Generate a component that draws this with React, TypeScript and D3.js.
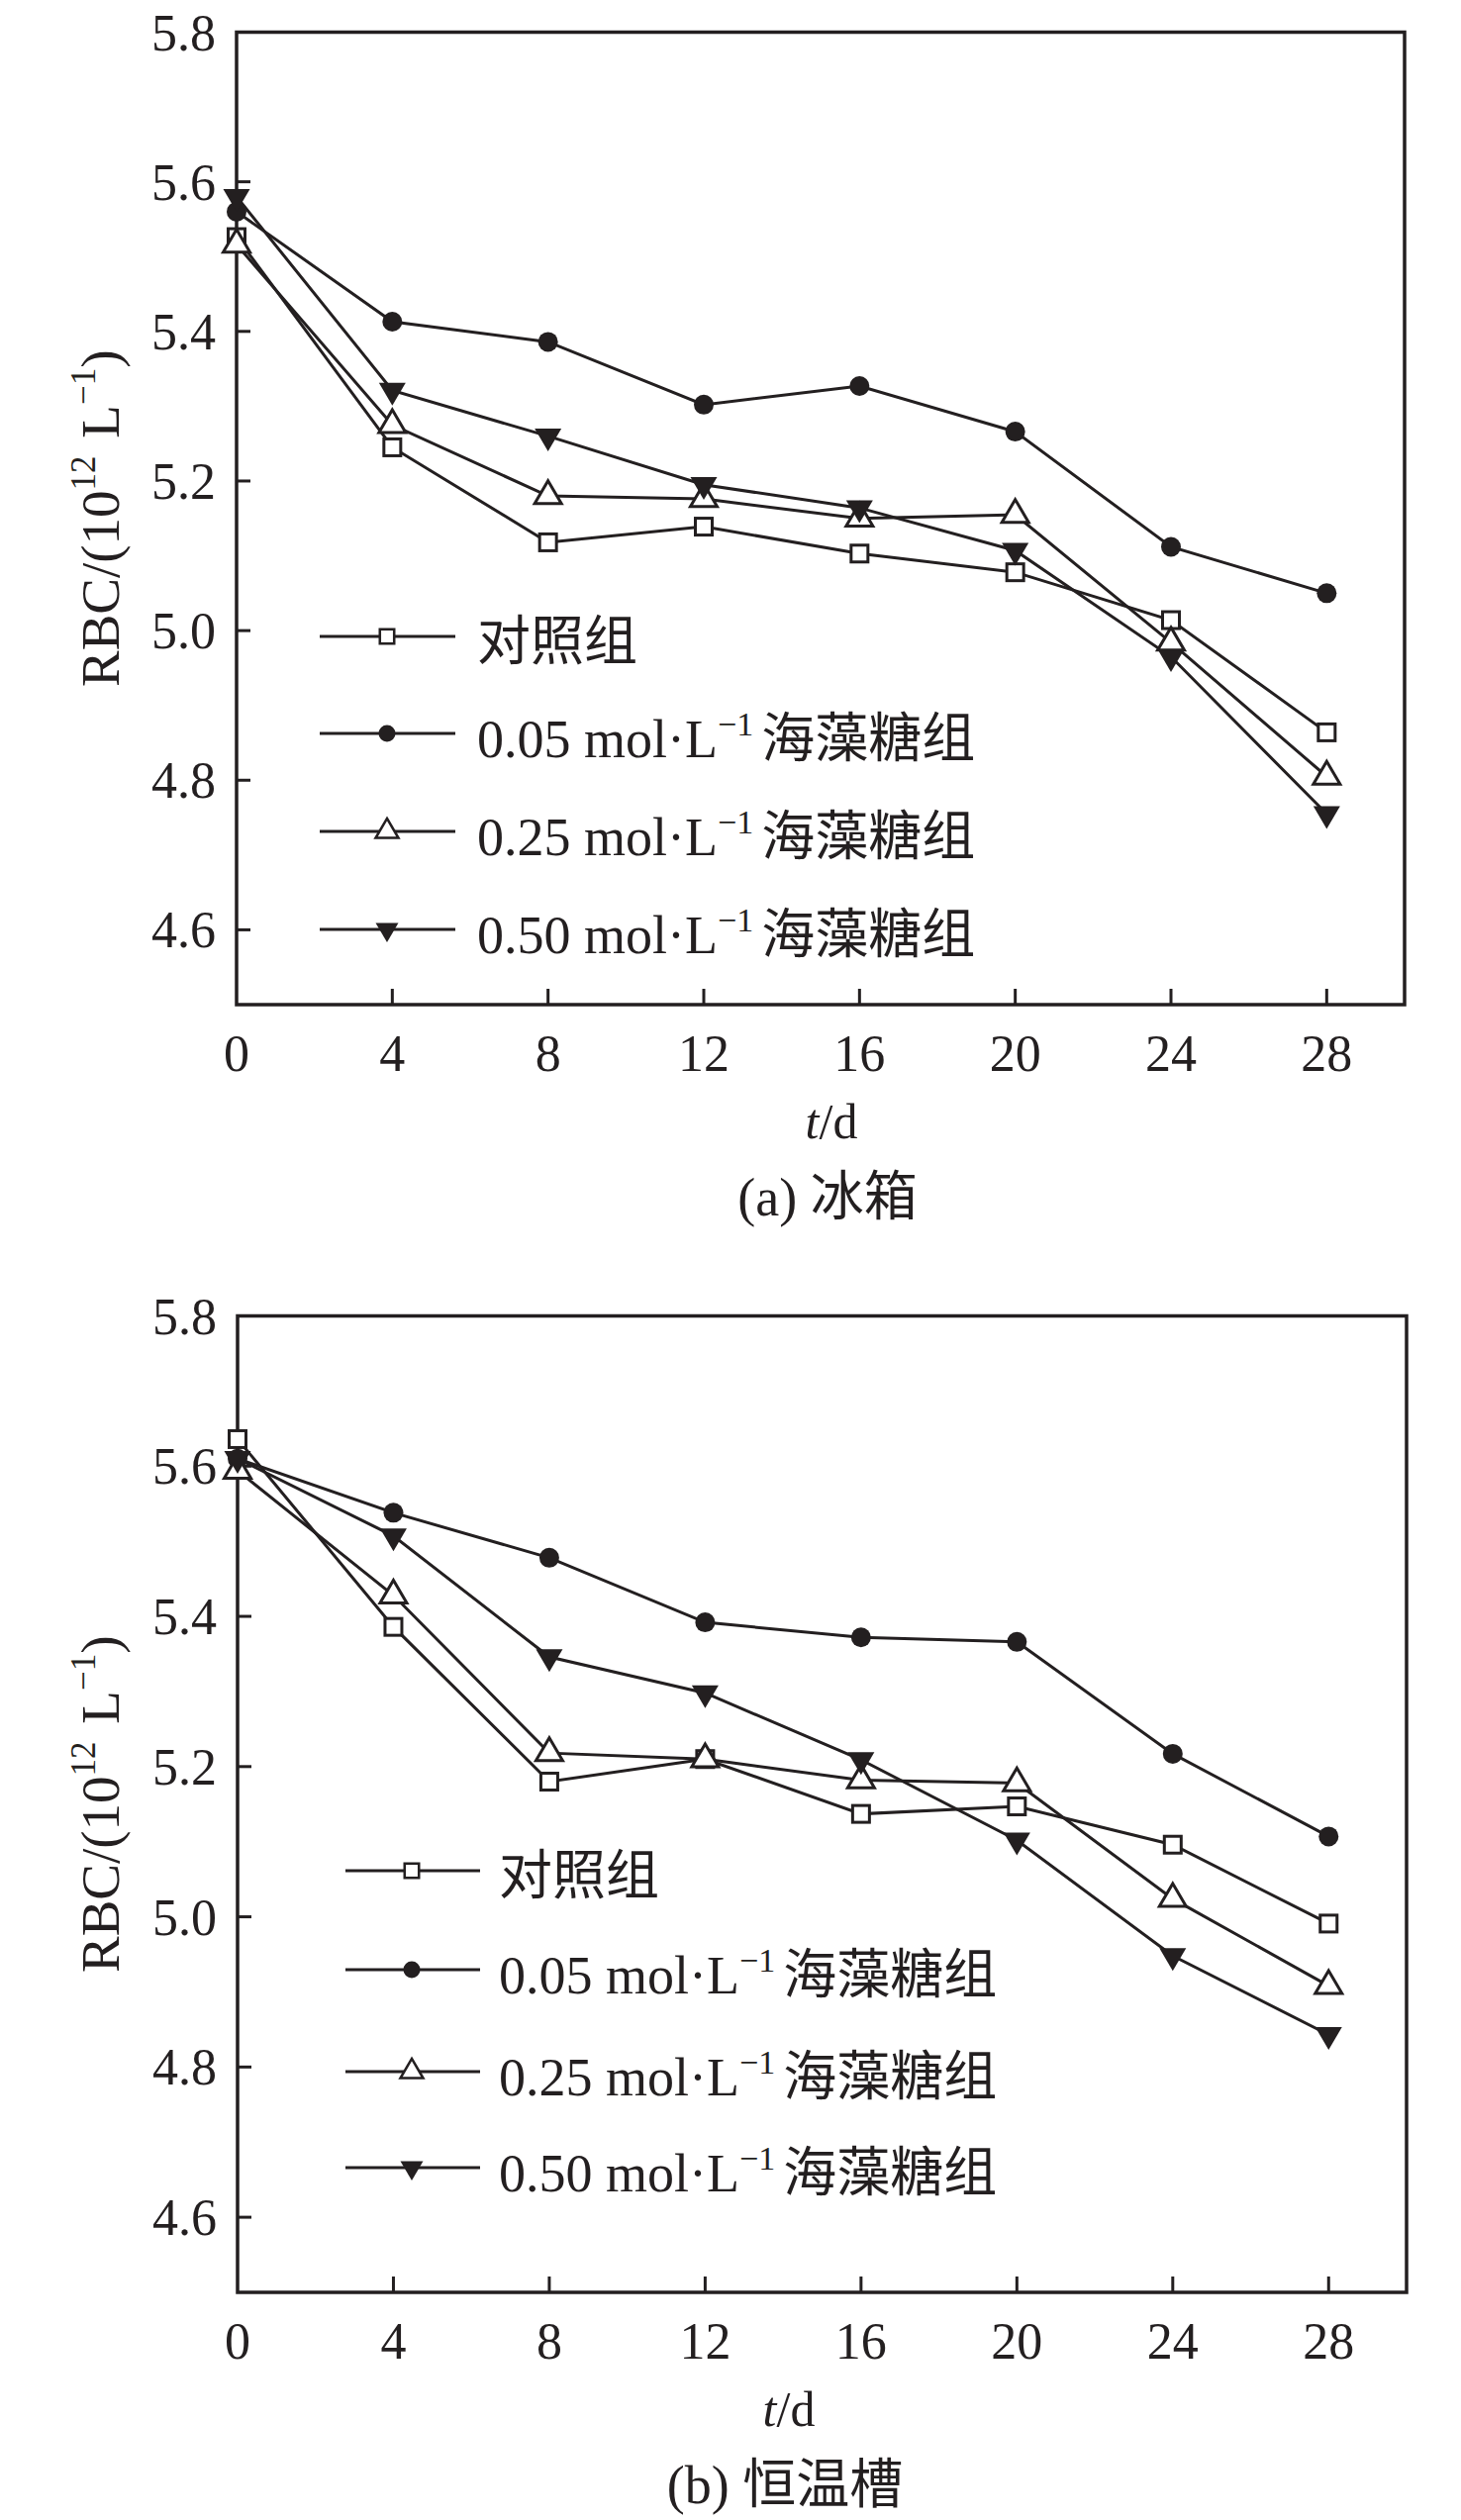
import * as d3 from "d3";
import React from "react";

// storage time (days)
const days = [0, 4, 8, 12, 16, 20, 24, 28];
const xTicks = [0, 4, 8, 12, 16, 20, 24, 28];
const yTicks = [4.6, 4.8, 5.0, 5.2, 5.4, 5.6, 5.8];

const seriesNames = ["对照组", "0.05", "0.25", "0.50"];

// (a) 冰箱
const ctrlA = [5.526, 5.245, 5.118, 5.139, 5.103, 5.078, 5.014, 4.864];
const low05A = [5.56, 5.413, 5.386, 5.302, 5.327, 5.266, 5.112, 5.05];
const mid25A = [5.516, 5.275, 5.18, 5.176, 5.15, 5.155, 4.984, 4.805];
const high50A = [5.58, 5.321, 5.26, 5.195, 5.164, 5.107, 4.965, 4.755];

// (b) 恒温槽
const ctrlB = [5.636, 5.386, 5.18, 5.21, 5.137, 5.147, 5.096, 4.991];
const low05B = [5.61, 5.538, 5.478, 5.392, 5.372, 5.366, 5.217, 5.107];
const mid25B = [5.594, 5.428, 5.218, 5.21, 5.182, 5.178, 5.024, 4.908];
const high50B = [5.61, 5.507, 5.346, 5.298, 5.209, 5.102, 4.948, 4.843];

// legend order: control, 0.05, 0.25, 0.50
const shapes = ["square", "circle", "triUp", "triDown"];
const INK = "#231f20";
const FONT = "'Liberation Serif', 'Times New Roman', 'Noto Sans CJK SC', serif";

function Marker({ shape, x, y, k = 1 }: { shape: string; x: number; y: number; k?: number }) {
  const sw = 3 * k;
  if (shape === "circle") return <circle cx={x} cy={y} r={10 * k} fill={INK} />;
  if (shape === "square") {
    const s = 17 * k;
    return <rect x={x - s / 2} y={y - s / 2} width={s} height={s} fill="#fff" stroke={INK} strokeWidth={sw} />;
  }
  const w = 27 * k;
  const h = 23 * k;
  const dir = shape === "triUp" ? 1 : -1;
  const p = `M${x},${y - (dir * h * 2) / 3} L${x + w / 2},${y + (dir * h) / 3} L${x - w / 2},${y + (dir * h) / 3} Z`;
  return shape === "triUp" ? (
    <path d={p} fill="#fff" stroke={INK} strokeWidth={sw} />
  ) : (
    <path d={p} fill={INK} />
  );
}

function LegendLabel({ name, x, y }: { name: string; x: number; y: number }) {
  if (name === "对照组")
    return (
      <text x={x} y={y} fontSize={54} fontFamily={FONT} fill={INK}>
        对照组
      </text>
    );
  return (
    <text x={x} y={y} fontSize={54} fontFamily={FONT} fill={INK}>
      {`${name} mol·L`}
      <tspan fontSize={34} dy={-22}>−1</tspan>
      <tspan dx={8} dy={22}>海藻糖组</tspan>
    </text>
  );
}

interface PanelProps {
  values: number[][];
  left: number;
  right: number;
  top: number;
  bottom: number;
  legend: { x1: number; x2: number; mx: number; tx: number; rows: number[] };
  titleX: number;
  capX: number;
  caption: string;
}

function Panel({ values, left, right, top, bottom, legend, titleX, capX, caption }: PanelProps) {
  const x = d3.scaleLinear().domain([0, 30]).range([left, right]);
  const y = d3.scaleLinear().domain([4.5, 5.8]).range([bottom, top]);
  const line = d3
    .line<number>()
    .x((_, i) => x(days[i]))
    .y((d) => y(d));
  const midY = (top + bottom) / 2;

  return (
    <g>
      {/* frame */}
      <rect x={left} y={top} width={right - left} height={bottom - top} fill="none" stroke={INK} strokeWidth={3.5} />
      {/* y ticks, inward */}
      {yTicks.map((t) => (
        <g key={`y${t}`}>
          {t < 5.8 && <line x1={left} x2={left + 14} y1={y(t)} y2={y(t)} stroke={INK} strokeWidth={3} />}
          <text x={left - 21} y={y(t) + 18} textAnchor="end" fontSize={52} fontFamily={FONT} fill={INK}>
            {t.toFixed(1)}
          </text>
        </g>
      ))}
      {/* x ticks, inward */}
      {xTicks.map((t) => (
        <g key={`x${t}`}>
          {t > 0 && <line x1={x(t)} x2={x(t)} y1={bottom} y2={bottom - 16} stroke={INK} strokeWidth={3} />}
          <text x={x(t)} y={bottom + 67} textAnchor="middle" fontSize={52} fontFamily={FONT} fill={INK}>
            {t}
          </text>
        </g>
      ))}
      {/* y axis title */}
      <text
        transform={`translate(120,${midY}) rotate(-90)`}
        textAnchor="middle"
        fontSize={55}
        fontFamily={FONT}
        fill={INK}
      >
        RBC/(10
        <tspan fontSize={35} dy={-24}>12</tspan>
        <tspan dx={4} dy={24}> L</tspan>
        <tspan fontSize={35} dy={-24}>−1</tspan>
        <tspan dy={24}>)</tspan>
      </text>
      {/* x axis title */}
      <text x={titleX} y={bottom + 135} textAnchor="middle" fontSize={50} fontFamily={FONT} fill={INK}>
        <tspan fontStyle="italic">t</tspan>/d
      </text>
      <text x={capX} y={bottom + 213} textAnchor="middle" fontSize={54} fontFamily={FONT} fill={INK}>
        {caption}
      </text>
      {/* series lines */}
      {values.map((v, si) => (
        <path key={`l${si}`} d={line(v) ?? ""} fill="none" stroke={INK} strokeWidth={3} />
      ))}
      {/* markers */}
      {values.map((v, si) =>
        v.map((d, i) => <Marker key={`m${si}-${i}`} shape={shapes[si]} x={x(days[i])} y={y(d)} />)
      )}
      {/* legend */}
      {seriesNames.map((n, i) => (
        <g key={`lg${i}`}>
          <line x1={legend.x1} x2={legend.x2} y1={legend.rows[i]} y2={legend.rows[i]} stroke={INK} strokeWidth={3} />
          <Marker shape={shapes[i]} x={legend.mx} y={legend.rows[i]} k={0.85} />
          <LegendLabel name={n} x={legend.tx} y={legend.rows[i] + 24} />
        </g>
      ))}
    </g>
  );
}

export default function App() {
  return (
    <svg
      width={1476}
      height={2546}
      viewBox="0 0 1476 2546"
      style={{ position: "absolute", left: 0, top: 0, background: "#fff" }}
    >
      <rect width={1476} height={2546} fill="#fff" />
      <Panel
        values={[ctrlA, low05A, mid25A, high50A]}
        left={239}
        right={1419}
        top={32.5}
        bottom={1015}
        legend={{ x1: 323, x2: 460, mx: 391, tx: 482, rows: [643, 741, 840, 939] }}
        titleX={840}
        capX={836}
        caption="(a) 冰箱"
      />
      <Panel
        values={[ctrlB, low05B, mid25B, high50B]}
        left={240}
        right={1421}
        top={1329.5}
        bottom={2316}
        legend={{ x1: 349, x2: 485, mx: 416, tx: 504, rows: [1890, 1990, 2093, 2190] }}
        titleX={797}
        capX={793}
        caption="(b) 恒温槽"
      />
    </svg>
  );
}
